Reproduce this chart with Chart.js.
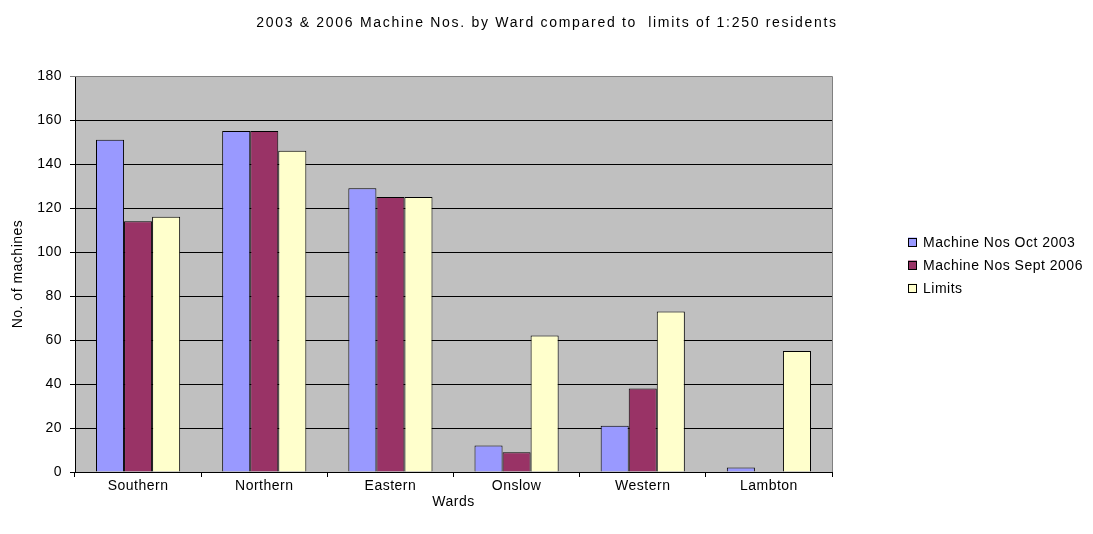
<!DOCTYPE html>
<html>
<head>
<meta charset="utf-8">
<script src="https://cdn.jsdelivr.net/npm/chart.js@4"></script>
<style>
  html, body { margin: 0; padding: 0; background: #fff; }
  #wrap { width: 1093px; height: 534px; position: relative; }
</style>
</head>
<body>
<div id="wrap"><canvas id="c" width="1093" height="534"></canvas></div>
<script>
// Wards and machine counts
const wards = ['Southern', 'Northern', 'Eastern', 'Onslow', 'Western', 'Lambton'];
const machinesOct2003 = [151, 155, 129, 12, 21, 2];
const machinesSept2006 = [114, 155, 125, 9, 38, 0];
const limits = [116, 146, 125, 62, 73, 55];
const yTicks = [0, 20, 40, 60, 80, 100, 120, 140, 160, 180];

const titleText = '2003 & 2006 Machine Nos. by Ward compared to  limits of 1:250 residents';
const FONT = "'Liberation Sans', Arial, sans-serif";
const FONT_SIZE = 14;
const LABEL_SPACING = '0.5px';

// slightly widened lettering for every label on the canvas
const spacing = {
  id: 'spacing',
  beforeUpdate(chart) { if ('letterSpacing' in chart.ctx) chart.ctx.letterSpacing = LABEL_SPACING; },
  beforeDraw(chart) { if ('letterSpacing' in chart.ctx) chart.ctx.letterSpacing = LABEL_SPACING; }
};

// grey plot background with a grey frame on top and right
const plotBackground = {
  id: 'plotBackground',
  beforeDraw(chart) {
    const { ctx, chartArea: a } = chart;
    ctx.save();
    ctx.fillStyle = '#C0C0C0';
    ctx.fillRect(a.left, a.top, a.right - a.left, a.bottom - a.top);
    ctx.restore();
  },
  afterDatasetsDraw(chart) {
    const { ctx, chartArea: a } = chart;
    ctx.save();
    ctx.strokeStyle = '#808080';
    ctx.lineWidth = 1;
    ctx.beginPath();
    ctx.moveTo(a.left, Math.round(a.top) + 0.5);
    ctx.lineTo(Math.round(a.right) + 0.5, Math.round(a.top) + 0.5);
    ctx.lineTo(Math.round(a.right) + 0.5, a.bottom);
    ctx.stroke();
    ctx.restore();
  }
};

// chart title and side legend
const titleAndLegend = {
  id: 'titleAndLegend',
  afterDraw(chart) {
    const { ctx } = chart;
    ctx.save();
    ctx.fillStyle = '#000';
    ctx.font = FONT_SIZE + 'px ' + FONT;
    ctx.textBaseline = 'middle';
    ctx.textAlign = 'center';
    if ('letterSpacing' in ctx) ctx.letterSpacing = '1.7px';
    ctx.fillText(titleText, 547, 23);
    if ('letterSpacing' in ctx) ctx.letterSpacing = LABEL_SPACING;

    ctx.textAlign = 'left';
    const x0 = 908, y0 = 242, step = 23, box = 9;
    chart.data.datasets.forEach((ds, i) => {
      const y = y0 + i * step;
      ctx.fillStyle = ds.backgroundColor;
      ctx.fillRect(x0, y - box / 2, box, box);
      ctx.strokeStyle = '#000';
      ctx.lineWidth = 1;
      ctx.strokeRect(x0 + 0.5, Math.round(y - box / 2) + 0.5, box - 1, box - 1);
      ctx.fillStyle = '#000';
      ctx.fillText(ds.label, x0 + 15, y + 1);
    });
    ctx.restore();
  }
};

const barCommon = {
  borderColor: '#000',
  borderWidth: 1,
  borderSkipped: 'start',
  categoryPercentage: 0.667,
  barPercentage: 1.0
};

new Chart(document.getElementById('c'), {
  type: 'bar',
  data: {
    labels: wards,
    datasets: [
      Object.assign({ label: 'Machine Nos Oct 2003', data: machinesOct2003, backgroundColor: '#9999FF' }, barCommon),
      Object.assign({ label: 'Machine Nos Sept 2006', data: machinesSept2006, backgroundColor: '#993366' }, barCommon),
      Object.assign({ label: 'Limits', data: limits, backgroundColor: '#FFFFCC' }, barCommon)
    ]
  },
  options: {
    responsive: false,
    animation: false,
    devicePixelRatio: 1,
    layout: { padding: { top: 76, right: 261, left: 0, bottom: 23 } },
    plugins: {
      legend: { display: false },
      title: { display: false },
      tooltip: { enabled: false }
    },
    scales: {
      x: {
        offset: true,
        grid: {
          offset: true,
          drawOnChartArea: false,
          drawTicks: true,
          tickLength: 5,
          color: '#000',
          lineWidth: 1
        },
        border: { color: '#000', width: 1 },
        ticks: { color: '#000', font: { family: FONT, size: FONT_SIZE }, padding: 1 },
        title: { display: true, text: 'Wards', color: '#000', font: { family: FONT, size: FONT_SIZE }, padding: { top: 2, bottom: 0 } },
        afterFit(scale) { scale.height = 534 - 23 - 472; }
      },
      y: {
        min: 0,
        max: 180,
        afterBuildTicks(scale) { scale.ticks = yTicks.map(v => ({ value: v })); },
        grid: {
          color: ctx => (ctx.tick && ctx.tick.value === 180 ? '#808080' : '#000'),
          lineWidth: 1,
          tickLength: 5,
          drawTicks: true
        },
        border: { color: '#000', width: 1 },
        ticks: { color: '#000', font: { family: FONT, size: FONT_SIZE }, padding: 8 },
        title: { display: true, text: 'No. of machines', color: '#000', font: { family: FONT, size: FONT_SIZE }, padding: { top: 10, bottom: 0 } },
        afterFit(scale) { scale.width = 75; }
      }
    }
  },
  plugins: [spacing, plotBackground, titleAndLegend]
});
</script>
</body>
</html>
